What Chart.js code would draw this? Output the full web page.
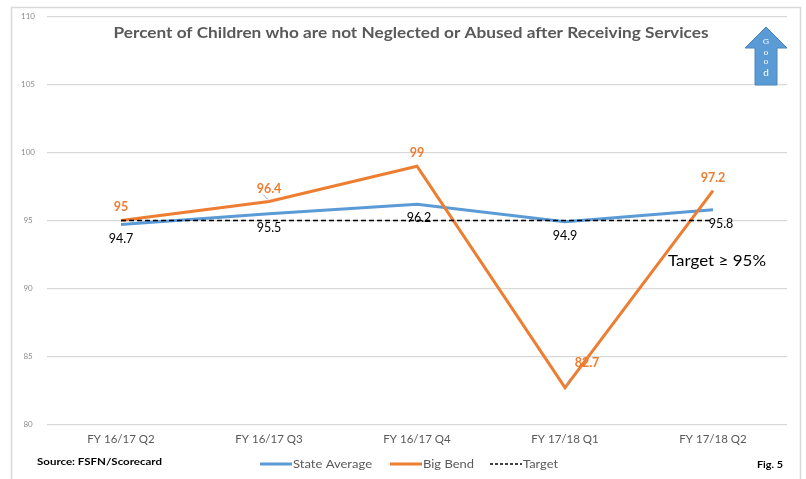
<!DOCTYPE html>
<html>
<head>
<meta charset="utf-8">
<script src="https://cdn.jsdelivr.net/npm/chart.js@4"></script>
<style>
  html, body { margin: 0; padding: 0; background: #fff; }
  #wrap { width: 806px; height: 479px; position: relative; }
</style>
</head>
<body>
<div id="wrap"><canvas id="chart" width="806" height="479"></canvas></div>
<script>
const quarters = ['FY 16/17 Q2', 'FY 16/17 Q3', 'FY 16/17 Q4', 'FY 17/18 Q1', 'FY 17/18 Q2'];
const stateAverage = [94.7, 95.5, 96.2, 94.9, 95.8];
const bigBend = [95, 96.4, 99, 82.7, 97.2];
const target = [95, 95, 95, 95, 95];
const yTicks = [80, 85, 90, 95, 100, 105, 110];

const FONT = 'Lato, "Liberation Sans", sans-serif';
const BLUE = '#5B9BD5';
const ORANGE = '#ED7D31';
const GREY = '#595959';

// offsets for the value labels (relative to the point)
const stateLabelPos = [[0, 14], [0, 14], [2, 14], [0, 14], [8, 14]];
const bendLabelPos = [[0, -14], [0, -13], [0, -13], [22, -25], [0, -13]];

// text drawn a bit wider than the font, like the source image
function wideText(c, text, x, y, width, align) {
  const w = c.measureText(text).width;
  const sx = width / w;
  c.save();
  c.textAlign = 'left';
  const left = align === 'center' ? x - width / 2 : x;
  c.translate(left, y);
  c.scale(sx, 1);
  c.fillText(text, 0, 0);
  c.restore();
}

const extras = {
  id: 'extras',
  beforeDraw(chart) {
    const c = chart.ctx;
    c.save();
    c.strokeStyle = '#d9d9d9';
    c.lineWidth = 1.5;
    c.beginPath();
    c.moveTo(11.5, 479);
    c.lineTo(11.5, 7.5);
    c.lineTo(800.5, 7.5);
    c.lineTo(800.5, 479);
    c.stroke();
    c.restore();
  },
  afterDatasetsDraw(chart) {
    const c = chart.ctx;
    c.save();
    c.textAlign = 'center';
    c.textBaseline = 'middle';

    // value labels
    const sMeta = chart.getDatasetMeta(0);
    c.font = '12.5px ' + FONT;
    c.fillStyle = '#000';
    sMeta.data.forEach((p, i) => {
      c.fillText(String(stateAverage[i]), p.x + stateLabelPos[i][0], p.y + stateLabelPos[i][1]);
    });
    const bMeta = chart.getDatasetMeta(1);
    c.font = 'bold 12.5px ' + FONT;
    c.fillStyle = ORANGE;
    bMeta.data.forEach((p, i) => {
      c.fillText(String(bigBend[i]), p.x + bendLabelPos[i][0], p.y + bendLabelPos[i][1]);
    });
    // small leader lines
    c.strokeStyle = '#a6a6a6';
    c.lineWidth = 1;
    let p = bMeta.data[1];
    c.beginPath(); c.moveTo(p.x - 6, p.y - 7); c.lineTo(p.x - 1, p.y - 2); c.stroke();
    p = bMeta.data[3];
    c.beginPath(); c.moveTo(p.x + 5, p.y - 9); c.lineTo(p.x + 1, p.y - 2); c.stroke();

    // title
    c.font = 'bold 14.5px ' + FONT;
    c.fillStyle = GREY;
    wideText(c, 'Percent of Children who are not Neglected or Abused after Receiving Services', 411, 33, 595, 'center');

    // target note
    c.font = '15px ' + FONT;
    c.fillStyle = '#000';
    wideText(c, 'Target \u2265 95%', 668, 261, 98, 'left');

    // source + figure
    c.font = 'bold 10px ' + FONT;
    c.fillStyle = '#000';
    wideText(c, 'Source: FSFN/Scorecard', 37, 462, 125, 'left');
    wideText(c, 'Fig. 5', 757, 465, 26, 'left');

    // legend
    const legend = [
      { ds: 0, x: 260, textW: 79 },
      { ds: 1, x: 390, textW: 51 },
      { ds: 2, x: 490, textW: 35 }
    ];
    c.font = '11.5px ' + FONT;
    legend.forEach(item => {
      const ds = chart.data.datasets[item.ds];
      c.strokeStyle = ds.borderColor;
      c.lineWidth = item.ds === 2 ? 1.5 : 3;
      c.setLineDash(ds.borderDash ? [3, 2] : []);
      c.beginPath();
      c.moveTo(item.x, 464);
      c.lineTo(item.x + 32, 464);
      c.stroke();
      c.setLineDash([]);
      c.fillStyle = GREY;
      wideText(c, ds.label, item.x + 33, 464, item.textW, 'left');
    });

    // "Good" arrow
    c.fillStyle = BLUE;
    c.strokeStyle = '#4a86bd';
    c.lineWidth = 1;
    c.beginPath();
    c.moveTo(766, 27);
    c.lineTo(787, 48);
    c.lineTo(777, 48);
    c.lineTo(777, 85);
    c.lineTo(755, 85);
    c.lineTo(755, 48);
    c.lineTo(745, 48);
    c.closePath();
    c.fill();
    c.stroke();
    c.fillStyle = '#fff';
    c.textAlign = 'center';
    c.font = '8px "DejaVu Serif", serif';
    c.fillText('G', 766, 42);
    c.fillText('o', 766, 53);
    c.fillText('o', 766, 62);
    c.font = '10px ' + FONT;
    c.fillText('d', 766, 73);
    c.restore();
  }
};

new Chart(document.getElementById('chart').getContext('2d'), {
  type: 'line',
  data: {
    labels: quarters,
    datasets: [
      {
        label: 'State Average',
        data: stateAverage,
        borderColor: BLUE,
        backgroundColor: BLUE,
        borderWidth: 3,
        pointRadius: 0,
        order: 2
      },
      {
        label: 'Big Bend',
        data: bigBend,
        borderColor: ORANGE,
        backgroundColor: ORANGE,
        borderWidth: 3,
        pointRadius: 0,
        order: 1
      },
      {
        label: 'Target',
        data: target,
        borderColor: '#000',
        backgroundColor: '#000',
        borderWidth: 1.3,
        borderDash: [5, 3],
        pointRadius: 0,
        order: 0
      }
    ]
  },
  options: {
    responsive: false,
    animation: false,
    layout: { padding: { left: 12, right: 19, top: 4, bottom: 25 } },
    plugins: {
      title: { display: false },
      tooltip: { enabled: false },
      legend: { display: false }
    },
    scales: {
      x: {
        offset: true,
        grid: { display: false, drawTicks: false },
        border: { display: false },
        ticks: { color: GREY, font: { family: FONT, size: 11.5 }, padding: 8, maxRotation: 0 }
      },
      y: {
        min: 80,
        max: 110,
        afterBuildTicks(axis) { axis.ticks = yTicks.map(v => ({ value: v })); },
        afterFit(axis) { axis.width = 35; },
        grid: { color: '#d9d9d9', drawTicks: false, lineWidth: 1.2 },
        border: { display: false },
        ticks: { color: '#8c8c8c', font: { family: FONT, size: 8 }, crossAlign: 'center', padding: 12 }
      }
    }
  },
  plugins: [extras]
});
</script>
</body>
</html>
